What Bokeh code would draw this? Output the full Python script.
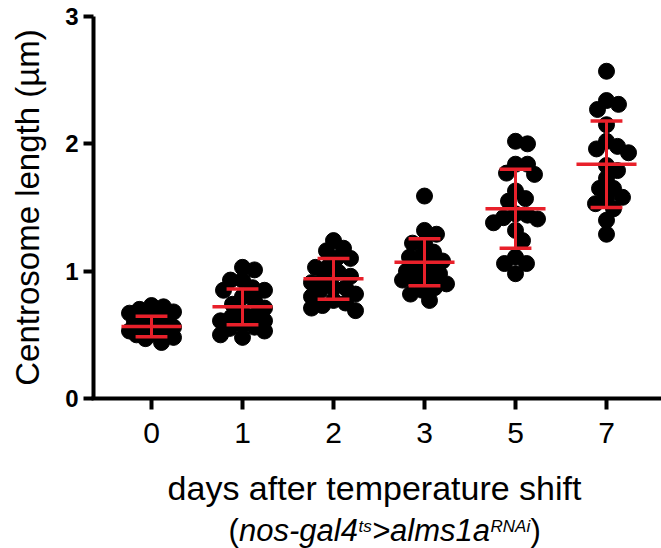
import numpy as np
from bokeh.plotting import figure
from bokeh.models import Range1d, FixedTicker, Label
from bokeh.embed import file_html
from bokeh.resources import INLINE

# ---------------- data ----------------
days = ["0", "1", "2", "3", "5", "7"]
day0 = [0.73, 0.72, 0.70, 0.68, 0.67, 0.64, 0.62, 0.61, 0.60, 0.59, 0.58, 0.56,
        0.55, 0.53, 0.53, 0.51, 0.50, 0.48, 0.47, 0.44]
day1 = [1.03, 1.01, 0.93, 0.93, 0.87, 0.85, 0.85, 0.80, 0.77, 0.74, 0.71, 0.68,
        0.65, 0.64, 0.61, 0.61, 0.58, 0.56, 0.55, 0.53, 0.50, 0.48]
day2 = [1.24, 1.18, 1.16, 1.10, 1.10, 1.03, 1.03, 0.99, 0.96, 0.94, 0.91, 0.87,
        0.87, 0.85, 0.82, 0.80, 0.77, 0.75, 0.73, 0.71, 0.69]
day3 = [1.59, 1.32, 1.29, 1.22, 1.22, 1.15, 1.12, 1.11, 1.08, 1.05, 1.02, 1.00,
        0.98, 0.95, 0.95, 0.93, 0.90, 0.87, 0.85, 0.82, 0.77]
day5 = [2.02, 2.00, 1.84, 1.84, 1.77, 1.76, 1.63, 1.57, 1.55, 1.45, 1.44, 1.42,
        1.41, 1.38, 1.32, 1.24, 1.11, 1.06, 1.06, 0.98]
day7 = [2.57, 2.34, 2.31, 2.27, 2.15, 2.02, 1.98, 1.96, 1.93, 1.83, 1.79, 1.73,
        1.65, 1.65, 1.58, 1.57, 1.53, 1.49, 1.40, 1.29]
groups = [day0, day1, day2, day3, day5, day7]
means = [0.565, 0.72, 0.94, 1.07, 1.49, 1.84]
sds = [0.08, 0.14, 0.16, 0.185, 0.31, 0.34]
y_ticks = [0, 1, 2, 3]

x_title = "days after temperature shift"
y_title = "Centrosome length (µm)"

# ---------------- layout (frame covers the whole canvas) ----------------
W, H = 661, 548
X_FIRST, X_STEP = 151, 91     # canvas x of first category, px per category
Y_ZERO, Y_TOP = 398, 16       # canvas y of value 0 and of value 3
SPINE_X = 93                  # canvas x of the y axis line

px_x = X_STEP
px_y = (Y_ZERO - Y_TOP) / 3.0
X0 = -X_FIRST / px_x
X1 = X0 + W / px_x
Y1 = 3 + Y_TOP / px_y
Y0 = Y1 - H / px_y


def dx(cx):
    return (cx - X_FIRST) / px_x


def dy(cy):
    return (Y_ZERO - cy) / px_y


FONT = "Liberation Sans"
RED = "#E8202A"


def swarm(vals, d_min=12.0, max_off=22.0):
    placed, offs = [], []
    cands = sorted(np.arange(-max_off, max_off + 0.5, 1.0), key=lambda o: (abs(o), -o))
    for v in vals:
        vy = v * px_y
        best, bestd = 0.0, -1.0
        for o in cands:
            d = min([np.hypot(o - ox, vy - oy) for ox, oy in placed], default=1e9)
            if d >= d_min:
                best = o
                break
            if d > bestd:
                bestd, best = d, o
        placed.append((best, vy))
        offs.append(best / px_x)
    return offs


xs, ys = [], []
for i, g in enumerate(groups):
    offs = swarm(g)
    xs += [i + o for o in offs]
    ys += list(g)

p = figure(width=W, height=H, output_backend="svg", toolbar_location=None,
           x_range=Range1d(X0, X1), y_range=Range1d(Y0, Y1),
           min_border_left=0, min_border_right=0, min_border_top=0,
           min_border_bottom=0)
p.outline_line_color = None
p.xgrid.visible = False
p.ygrid.visible = False
p.background_fill_color = "white"

p.scatter(x=xs, y=ys, size=16, color="black", line_color="black")

idx = list(range(len(days)))
lo = [m - s for m, s in zip(means, sds)]
hi = [m + s for m, s in zip(means, sds)]
p.segment(x0=[i - 0.33 for i in idx], x1=[i + 0.33 for i in idx], y0=means, y1=means,
          line_color=RED, line_width=3.5)
p.segment(x0=idx, x1=idx, y0=lo, y1=hi, line_color=RED, line_width=3)
p.segment(x0=[i - 0.175 for i in idx], x1=[i + 0.175 for i in idx], y0=lo, y1=lo,
          line_color=RED, line_width=3.5)
p.segment(x0=[i - 0.175 for i in idx], x1=[i + 0.175 for i in idx], y0=hi, y1=hi,
          line_color=RED, line_width=3.5)

# x axis, drawn at value 0
xa = p.xaxis[0]
xa.fixed_location = 0
xa.bounds = (dx(SPINE_X - 2), X1)
xa.ticker = FixedTicker(ticks=idx)
xa.major_label_overrides = {i: d for i, d in enumerate(days)}
xa.minor_tick_line_color = None
xa.axis_line_width = 4
xa.major_tick_line_width = 4
xa.major_tick_out = 11
xa.major_tick_in = 0
xa.major_label_text_font = FONT
xa.major_label_text_font_size = "30px"
xa.major_label_text_color = "black"
xa.major_label_standoff = 13

# y axis, drawn at the spine position
ya = p.yaxis[0]
ya.fixed_location = dx(SPINE_X)
ya.bounds = (0, 3)
ya.ticker = FixedTicker(ticks=y_ticks)
ya.minor_tick_line_color = None
ya.axis_line_width = 4
ya.major_tick_line_width = 4
ya.major_tick_out = 10
ya.major_tick_in = 0
ya.major_label_text_font = FONT
ya.major_label_text_font_size = "24px"
ya.major_label_text_font_style = "bold"
ya.major_label_text_color = "black"
ya.major_label_standoff = 5


def shift(fs):
    # vertical correction between the requested and the drawn baseline
    return 0.3 * fs


# axis titles
p.add_layout(Label(x=dx(37 - shift(33)), y=dy((Y_TOP + Y_ZERO) / 2), text=y_title,
                   angle=np.pi / 2, text_font=FONT, text_font_size="33px",
                   text_color="black", text_align="center", text_baseline="alphabetic"))
p.add_layout(Label(x=dx(374), y=dy(498 - shift(34)), text=x_title, text_font=FONT,
                   text_font_size="34px", text_color="black",
                   text_align="center", text_baseline="alphabetic"))

base = 539
sup = base - 8
parts = [
    ("(", 228, base, 31, "normal"),
    ("nos-gal4", 238.5, base, 31, "italic"),
    ("ts", 358, sup, 17, "italic"),
    (">alms1a", 371.5, base, 31, "italic"),
    ("RNAi", 490, sup, 17, "italic"),
    (")", 530, base, 31, "normal"),
]
for t, cx, cy, fs, st in parts:
    p.add_layout(Label(x=dx(cx), y=dy(cy - shift(fs)), text=t, text_font=FONT,
                       text_font_size=f"{fs}px", text_font_style=st, text_color="black",
                       text_align="left", text_baseline="alphabetic"))

open("out.html", "w").write(file_html(p, INLINE))
